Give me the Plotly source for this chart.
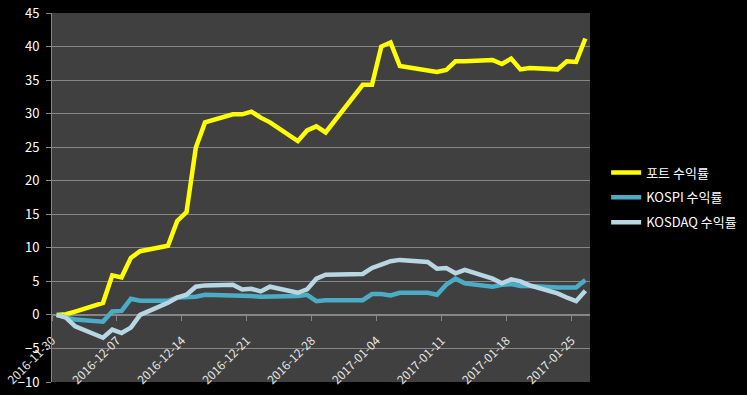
import plotly.graph_objects as go

dates = [
    "2016-11-30", "2016-12-01", "2016-12-02",
    "2016-12-05", "2016-12-06", "2016-12-07", "2016-12-08", "2016-12-09",
    "2016-12-12", "2016-12-13", "2016-12-14", "2016-12-15", "2016-12-16",
    "2016-12-19", "2016-12-20", "2016-12-21", "2016-12-22", "2016-12-23",
    "2016-12-26", "2016-12-27", "2016-12-28", "2016-12-29",
    "2017-01-02", "2017-01-03", "2017-01-04", "2017-01-05", "2017-01-06",
    "2017-01-09", "2017-01-10", "2017-01-11", "2017-01-12", "2017-01-13",
    "2017-01-16", "2017-01-17", "2017-01-18", "2017-01-19", "2017-01-20",
    "2017-01-23", "2017-01-24", "2017-01-25", "2017-01-26",
]

port = [0, 0.1, 0.5,
        1.8, 5.9, 5.6, 8.5, 9.5,
        10.3, 14.0, 15.3, 24.9, 28.7,
        29.9, 29.9, 30.3, 29.4, 28.7,
        25.9, 27.5, 28.1, 27.2,
        34.3, 34.3, 40.0, 40.6, 37.1,
        36.4, 36.2, 36.5, 37.8, 37.8,
        38.0, 37.4, 38.2, 36.6, 36.8,
        36.6, 37.8, 37.7, 41.2]

kospi = [0, -0.3, -0.7,
         -1.0, 0.5, 0.6, 2.4, 2.1,
         2.1, 2.6, 2.7, 2.7, 3.0,
         2.9, 3.0, 2.8, 2.7, 2.7,
         2.8, 3.0, 2.05, 2.2,
         2.2, 3.1, 3.1, 2.9, 3.3,
         3.3, 3.0, 4.5, 5.4, 4.7,
         4.2, 4.5, 4.6, 4.3, 4.3,
         4.1, 4.1, 4.1, 5.2]

kosdaq = [0, -0.4, -1.7,
          -3.4, -2.2, -2.7, -1.9, 0.0,
          1.8, 2.6, 3.0, 4.2, 4.4,
          4.5, 3.8, 3.9, 3.5, 4.2,
          3.3, 3.8, 5.4, 6.0,
          6.1, 7.0, 7.5, 8.0, 8.2,
          7.9, 6.9, 7.0, 6.2, 6.7,
          5.4, 4.7, 5.3, 5.0, 4.4,
          3.2, 2.6, 2.05, 3.6]

names = ["포트 수익률", "KOSPI 수익률", "KOSDAQ 수익률"]
colors = ["#FFFF00", "#4BACC6", "#B7D7E2"]

# place each point at the centre of its day slot
xs = [d + " 12:00" for d in dates]

font_family = "Noto Sans CJK KR, Noto Sans, sans-serif"

fig = go.Figure()
for i, (name, ys) in enumerate(zip(names, [port, kospi, kosdaq])):
    fig.add_trace(go.Scatter(
        x=xs, y=ys, mode="lines", name=name,
        line=dict(color=colors[i], width=4.5),
        legendgroup=f"g{i}",
    ))

fig.update_layout(
    width=747, height=395,
    paper_bgcolor="#000000",
    plot_bgcolor="#404040",
    margin=dict(l=52, r=157, t=13, b=13, autoexpand=False),
    font=dict(family=font_family, color="#FFFFFF", size=12),
    showlegend=True,
    legend=dict(
        x=1.03, xanchor="left", y=0.5, yanchor="middle",
        bgcolor="rgba(0,0,0,0)", font=dict(size=13, color="#FFFFFF"),
        tracegroupgap=5, traceorder="grouped",
    ),
    xaxis=dict(
        type="date",
        range=["2016-11-30", "2017-01-27"],
        tick0="2016-11-30", dtick=7 * 86400000,
        tickformat="%Y-%m-%d", tickangle=-45,
        anchor="free", position=10 / 55,
        showgrid=False, showline=True, linecolor="#868686", linewidth=1,
        ticks="outside", ticklen=5, tickcolor="#868686",
        tickfont=dict(size=12, color="#E6E6E6"),
        ticklabelstandoff=8,
        layer="below traces",
        automargin=False,
    ),
    yaxis=dict(
        range=[-10, 45], dtick=5, tick0=0,
        showgrid=True, gridcolor="#868686", gridwidth=1,
        zeroline=False,
        showline=True, linecolor="#868686", linewidth=1,
        ticks="outside", ticklen=5, tickcolor="#868686",
        tickfont=dict(size=13, color="#FFFFFF"),
        ticklabelstandoff=4,
        automargin=False,
    ),
)

fig.write_html(
    "out.html",
    config={"displayModeBar": False},
    post_script="document.body.style.margin='0';document.body.style.background='#000';",
)
